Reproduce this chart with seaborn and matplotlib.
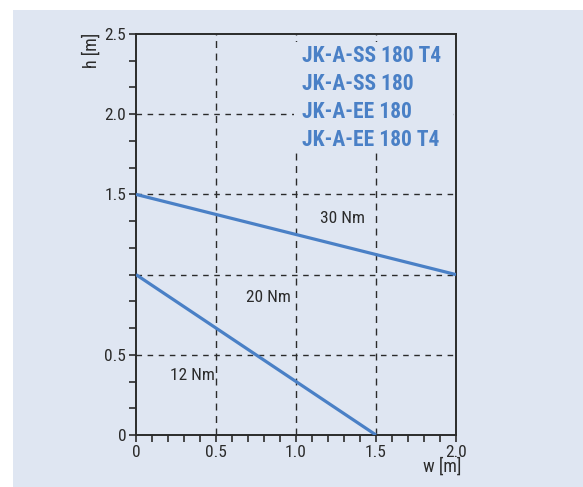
import matplotlib
matplotlib.use("Agg")
import matplotlib.pyplot as plt
import seaborn as sns
import pandas as pd
from matplotlib.ticker import MultipleLocator, FixedLocator
from matplotlib import font_manager

sns.set_theme(style="ticks")
installed = {f.name for f in font_manager.fontManager.ttflist}
narrow = [f for f in ["Roboto Condensed", "Liberation Sans Narrow", "Roboto"] if f in installed]
plt.rcParams["font.family"] = narrow + ["DejaVu Sans"]

BG = "#dfe6f2"
BLUE = "#4a80c6"
INK = "#2b2b2b"

# Model names printed in the panel
models = ["JK-A-SS 180 T4", "JK-A-SS 180", "JK-A-EE 180", "JK-A-EE 180 T4"]

# Torque limit curves: width w [m] vs height h [m]
curve_names = ["upper", "lower"]
curve_w = [[0.0, 2.0], [0.0, 1.5]]
curve_h = [[1.5, 1.0], [1.0, 0.0]]

# Torque region labels and their anchor points (w, h)
torque_labels = ["30 Nm", "20 Nm", "12 Nm"]
torque_w = [1.29, 0.83, 0.35]
torque_h = [1.35, 0.86, 0.37]

x_ticks = [0, 0.5, 1.0, 1.5, 2.0]
x_tick_labels = ["0", "0.5", "1.0", "1.5", "2.0"]
y_ticks = [0, 0.5, 1.0, 1.5, 2.0, 2.5]
y_tick_labels = ["0", "0.5", "", "1.5", "2.0", "2.5"]

rows = []
for name, ws, hs in zip(curve_names, curve_w, curve_h):
    for w, h in zip(ws, hs):
        rows.append({"curve": name, "w": w, "h": h})
df = pd.DataFrame(rows)

fig = plt.figure(figsize=(5.83, 4.87), dpi=100)
fig.patch.set_facecolor("white")
# tinted backdrop panel
fig.patches.append(plt.Rectangle((13 / 583, 0), 1 - 13 / 583, 1 - 10 / 487,
                                 transform=fig.transFigure, facecolor=BG,
                                 edgecolor="none", zorder=-10))

ax = fig.add_axes([136 / 583, 1 - 435 / 487, 320 / 583, 401 / 487])
ax.set_facecolor(BG)

sns.lineplot(data=df, x="w", y="h", hue="curve", units="curve", estimator=None,
             palette=[BLUE, BLUE], linewidth=2.3, legend=False, ax=ax,
             zorder=3, solid_capstyle="butt")

ax.set_xlim(0, 2.0)
ax.set_ylim(0, 2.5)

# dashed grid
for gx in [0.5, 1.0, 1.5]:
    ax.axvline(gx, color=INK, lw=1.0, ls=(0, (5, 4)), zorder=1)
for gy in [0.5, 1.0, 1.5, 2.0]:
    ax.axhline(gy, color=INK, lw=1.0, ls=(0, (4, 4)), zorder=1)

# plain backing block behind the model list
ax.add_patch(plt.Rectangle((0.985, 1.79), 0.995, 0.66, facecolor=BG,
                           edgecolor="none", zorder=2))

ax.xaxis.set_major_locator(FixedLocator(x_ticks))
ax.set_xticklabels(x_tick_labels)
ax.xaxis.set_minor_locator(MultipleLocator(0.1))
ax.yaxis.set_major_locator(FixedLocator(y_ticks))
ax.set_yticklabels(y_tick_labels)
ax.yaxis.set_minor_locator(MultipleLocator(0.5 / 3))

ax.tick_params(which="both", direction="out", length=5, width=1.2, color=INK,
               labelsize=12.5, labelcolor=INK, pad=2)
for s in ax.spines.values():
    s.set_color(INK)
    s.set_linewidth(1.4)
    s.set_visible(True)

ax.set_xlabel("")
ax.set_ylabel("")
fig.text(461 / 583, 1 - 467 / 487, "w [m]", ha="right", va="center",
         fontsize=13, color=INK)
fig.text(92 / 583, 1 - 50 / 487, "h [m]", ha="center", va="center",
         rotation=90, fontsize=13, color=INK)

for lab, w, h in zip(torque_labels, torque_w, torque_h):
    ax.text(w, h, lab, ha="center", va="center", fontsize=12.5, color=INK,
            zorder=4)

for i, m in enumerate(models):
    fig.text(302 / 583, 1 - (56 + 28 * i) / 487, m, ha="left", va="center",
             fontsize=15.5, fontweight="bold", color=BLUE, zorder=5)

fig.savefig("out.png", dpi=100, facecolor="white")
